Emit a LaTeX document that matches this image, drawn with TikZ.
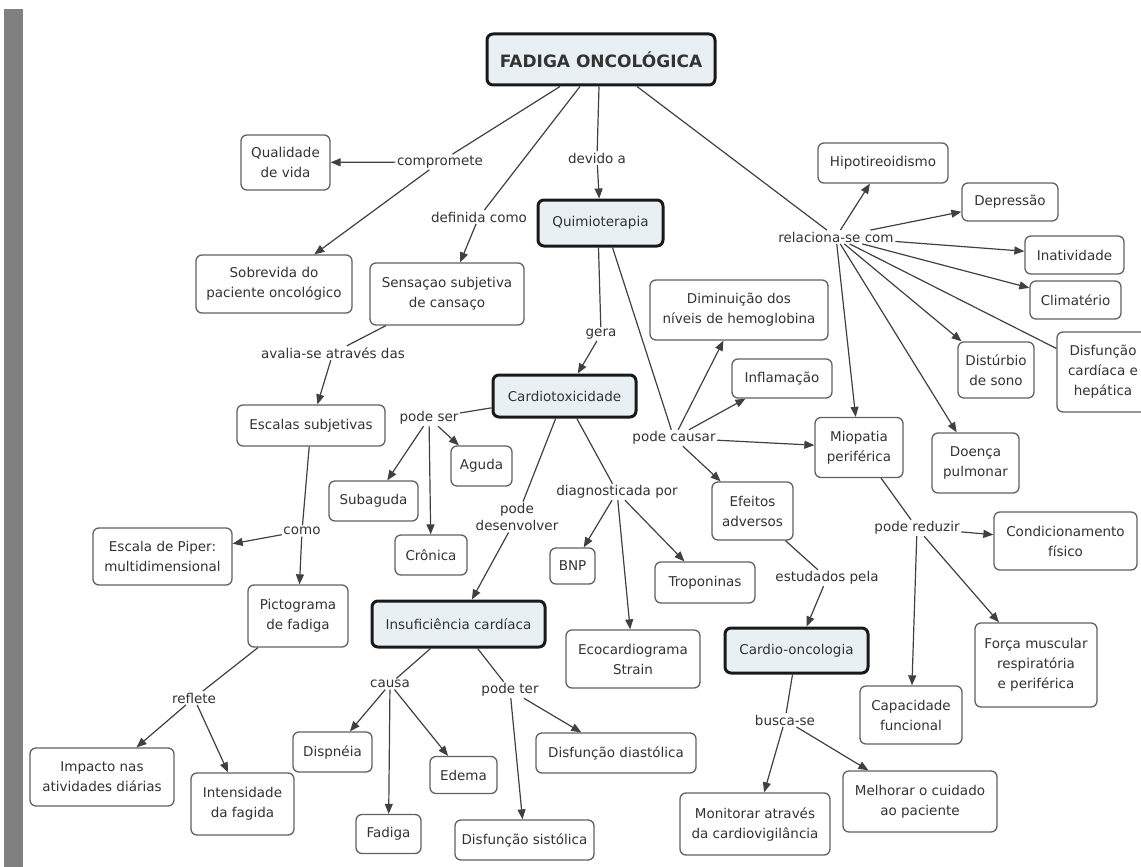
\documentclass[tikz,border=0pt]{standalone}
\usepackage{fontspec}
\setmainfont{DejaVu Sans}
\usetikzlibrary{shapes,positioning,arrows,arrows.meta}
\definecolor{keyfill}{HTML}{E8F0F3}
\definecolor{bargray}{HTML}{808080}

\begin{document}
\begin{tikzpicture}[x=1pt,y=-1pt]

  \useasboundingbox (0,0) rectangle (1141,867);
  \fill[bargray] (4,9) rectangle (23,867);

  \coordinate (Main) at (601,59.5);
  \coordinate (Quimio) at (600.5,223);
  \coordinate (Cardio) at (564.5,396);
  \coordinate (Insuf) at (458.5,624);
  \coordinate (Onco) at (796.5,650.5);

  \tikzstyle{cbox}=[draw=black!62,line width=1.3pt,
                    shape=rectangle,rounded corners=6pt,
                    inner sep=2pt,fill=white,text=black!80,
                    align=center,font=\fontsize{13.5}{20}\selectfont];
  \tikzstyle{kbox}=[cbox,draw=black!90,line width=3pt,fill=keyfill];
  \tikzstyle{lbl}=[inner sep=1.5pt,text=black!80,align=center,
                   font=\fontsize{13.5}{17}\selectfont];
  \tikzstyle{link}=[draw=black!75,line width=1.2pt];
  \tikzstyle{arr}=[link,->,>={Triangle[length=10pt,width=8pt]}];

  % main concepts
  \node[kbox,minimum width=228,minimum height=51,
        font=\fontsize{17}{20}\selectfont\bfseries] (MainBox) at (Main) {FADIGA ONCOLÓGICA};
  \node[kbox,minimum width=125,minimum height=46] (QuimioBox) at (Quimio) {Quimioterapia};
  \node[kbox,minimum width=143,minimum height=42] (CardioBox) at (Cardio) {Cardiotoxicidade};
  \node[kbox,minimum width=173,minimum height=46] (InsufBox) at (Insuf) {Insuficiência cardíaca};
  \node[kbox,minimum width=143,minimum height=45] (OncoBox) at (Onco) {Cardio-oncologia};

  % fadiga oncologica
  \node[lbl] (ComprLbl) at (440,162) {compromete};
  \node[cbox,minimum width=89,minimum height=55] (QualBox) at (285.5,162.5) {Qualidade\\de vida};
  \node[cbox,minimum width=156,minimum height=58] (SobrevBox) at (274,284) {Sobrevida do\\paciente oncológico};
  \draw[link] ([xshift=-41pt]MainBox.south) -- (ComprLbl);
  \draw[arr] (ComprLbl) -- (QualBox);
  \draw[arr] (ComprLbl) -- (SobrevBox);

  \node[lbl] (DefLbl) at (479,217) {definida como};
  \node[cbox,minimum width=154,minimum height=62] (SensBox) at (447,294) {Sensaçao subjetiva\\de cansaço};
  \draw[link] ([xshift=-21pt]MainBox.south) -- (DefLbl);
  \draw[arr] (DefLbl) -- (SensBox);

  \node[lbl] (DevidoLbl) at (597,158) {devido a};
  \draw[link] ([xshift=-2pt]MainBox.south) -- (DevidoLbl);
  \draw[arr] (DevidoLbl) -- (QuimioBox);

  \node[lbl] (RelLbl) at (836,237) {relaciona-se com};
  \node[cbox,minimum width=130,minimum height=40] (HipoBox) at (883,163) {Hipotireoidismo};
  \node[cbox,minimum width=96,minimum height=38] (DepBox) at (1010,202) {Depressão};
  \node[cbox,minimum width=99,minimum height=38] (InatBox) at (1074.5,255) {Inatividade};
  \node[cbox,minimum width=91,minimum height=38] (ClimBox) at (1075.5,300) {Climatério};
  \node[cbox,minimum width=92,minimum height=80] (DisfBox) at (1103,372) {Disfunção\\cardíaca e\\hepática};
  \node[cbox,minimum width=76,minimum height=56] (SonoBox) at (996,370) {Distúrbio\\de sono};
  \node[cbox,minimum width=87,minimum height=60] (PulmBox) at (975.5,463) {Doença\\pulmonar};
  \node[cbox,minimum width=88,minimum height=60] (MioBox) at (859,447.5) {Miopatia\\periférica};
  \draw[link] ([xshift=36pt]MainBox.south) -- (RelLbl);
  \draw[arr] (RelLbl) -- (HipoBox);
  \draw[arr] (RelLbl) -- (DepBox);
  \draw[arr] (RelLbl) -- (InatBox);
  \draw[arr] (RelLbl) -- (ClimBox);
  \draw[link] (RelLbl) -- (DisfBox);
  \draw[arr] (RelLbl) -- (SonoBox);
  \draw[arr] (RelLbl) -- (PulmBox);
  \draw[arr] (RelLbl) -- (MioBox);

  % quimioterapia
  \node[lbl] (GeraLbl) at (601,334) {gera};
  \draw[link] ([xshift=-2pt]QuimioBox.south) -- (GeraLbl);
  \draw[arr] (GeraLbl) -- (CardioBox);

  \node[lbl] (CausarLbl) at (674,438) {pode causar};
  \node[cbox,minimum width=178,minimum height=60] (HemoBox) at (739,310) {Diminuição dos\\níveis de hemoglobina};
  \node[cbox,minimum width=100,minimum height=39] (InflBox) at (782,378.5) {Inflamação};
  \node[cbox,minimum width=81,minimum height=58] (EfeitBox) at (752.5,511) {Efeitos\\adversos};
  \draw[link] ([xshift=12pt]QuimioBox.south) -- (CausarLbl);
  \draw[arr] (CausarLbl) -- (HemoBox);
  \draw[arr] (CausarLbl) -- (InflBox);
  \draw[arr] (CausarLbl) -- (MioBox);
  \draw[arr] (CausarLbl) -- (EfeitBox);

  % miopatia
  \node[lbl] (ReduzLbl) at (917,528) {pode reduzir};
  \node[cbox,minimum width=143,minimum height=58] (CondBox) at (1065.5,541) {Condicionamento\\físico};
  \node[cbox,minimum width=102,minimum height=58] (CapBox) at (911,715) {Capacidade\\funcional};
  \node[cbox,minimum width=122,minimum height=84] (ForcaBox) at (1036,665) {Força muscular\\respiratória\\e periférica};
  \draw[link] (MioBox) -- (ReduzLbl);
  \draw[arr] (ReduzLbl) -- (CondBox);
  \draw[arr] (ReduzLbl) -- (CapBox);
  \draw[arr] (ReduzLbl) -- (ForcaBox);

  % efeitos adversos
  \node[lbl] (EstudLbl) at (827,578) {estudados pela};
  \draw[link] (EfeitBox) -- (EstudLbl);
  \draw[arr] (EstudLbl) -- (OncoBox);

  \node[lbl] (BuscaLbl) at (785,720) {busca-se};
  \node[cbox,minimum width=150,minimum height=62] (MonitBox) at (755,824) {Monitorar através\\da cardiovigilância};
  \node[cbox,minimum width=154,minimum height=61] (MelhBox) at (920,801.5) {Melhorar o cuidado\\ao paciente};
  \draw[link] (OncoBox) -- (BuscaLbl);
  \draw[arr] (BuscaLbl) -- (MonitBox);
  \draw[arr] (BuscaLbl) -- (MelhBox);

  % cardiotoxicidade
  \node[lbl] (SerLbl) at (429,418) {pode ser};
  \node[cbox,minimum width=61,minimum height=40] (AgudaBox) at (481.5,466) {Aguda};
  \node[cbox,minimum width=89,minimum height=40] (SubagBox) at (373.5,501) {Subaguda};
  \node[cbox,minimum width=72,minimum height=40] (CronBox) at (431,555) {Crônica};
  \draw[link] (CardioBox) -- (SerLbl);
  \draw[arr] (SerLbl) -- (AgudaBox);
  \draw[arr] (SerLbl) -- (SubagBox);
  \draw[arr] (SerLbl) -- (CronBox);

  \node[lbl] (DesenvLbl) at (517,517) {pode\\desenvolver};
  \draw[link] (CardioBox) -- (DesenvLbl);
  \draw[arr] (DesenvLbl) -- (InsufBox);

  \node[lbl] (DiagLbl) at (617,492) {diagnosticada por};
  \node[cbox,minimum width=45,minimum height=36] (BnpBox) at (572.5,566) {BNP};
  \node[cbox,minimum width=100,minimum height=41] (TropBox) at (705,582.5) {Troponinas};
  \node[cbox,minimum width=134,minimum height=58] (EcoBox) at (633,659) {Ecocardiograma\\Strain};
  \draw[link] (CardioBox) -- (DiagLbl);
  \draw[arr] (DiagLbl) -- (BnpBox);
  \draw[arr] (DiagLbl) -- (EcoBox);
  \draw[arr] (DiagLbl) -- (TropBox);

  % sensacao subjetiva
  \node[lbl] (AvalLbl) at (333,353) {avalia-se através das};
  \node[cbox,minimum width=148,minimum height=41] (EscBox) at (311,425.5) {Escalas subjetivas};
  \draw[link] (SensBox) -- (AvalLbl);
  \draw[arr] (AvalLbl) -- (EscBox);

  \node[lbl] (ComoLbl) at (302,531) {como};
  \node[cbox,minimum width=139,minimum height=57] (PiperBox) at (162.5,556.5) {Escala de Piper:\\multidimensional};
  \node[cbox,minimum width=100,minimum height=62] (PictBox) at (298,616) {Pictograma\\de fadiga};
  \draw[link] (EscBox) -- (ComoLbl);
  \draw[arr] (ComoLbl) -- (PiperBox);
  \draw[arr] (ComoLbl) -- (PictBox);

  \node[lbl] (RefLbl) at (194,698) {reflete};
  \node[cbox,minimum width=144,minimum height=58] (ImpBox) at (102,777) {Impacto nas\\atividades diárias};
  \node[cbox,minimum width=103,minimum height=62] (IntBox) at (242.5,804) {Intensidade\\da fagida};
  \draw[link] (PictBox) -- (RefLbl);
  \draw[arr] (RefLbl) -- (ImpBox);
  \draw[arr] (RefLbl) -- (IntBox);

  % insuficiencia cardiaca
  \node[lbl] (CausaLbl) at (390,684) {causa};
  \node[cbox,minimum width=79,minimum height=40] (DispBox) at (332.5,752) {Dispnéia};
  \node[cbox,minimum width=67,minimum height=37] (EdemaBox) at (463.5,775) {Edema};
  \node[cbox,minimum width=65,minimum height=39] (FadBox) at (388.5,834) {Fadiga};
  \draw[link] (InsufBox) -- (CausaLbl);
  \draw[arr] (CausaLbl) -- (DispBox);
  \draw[arr] (CausaLbl) -- (FadBox);
  \draw[arr] (CausaLbl) -- (EdemaBox);

  \node[lbl] (TerLbl) at (510,690) {pode ter};
  \node[cbox,minimum width=160,minimum height=40] (DiastBox) at (616,753) {Disfunção diastólica};
  \node[cbox,minimum width=139,minimum height=40] (SistBox) at (524.5,840) {Disfunção sistólica};
  \draw[link] (InsufBox) -- (TerLbl);
  \draw[arr] (TerLbl) -- (DiastBox);
  \draw[arr] (TerLbl) -- (SistBox);

\end{tikzpicture}
\end{document}
